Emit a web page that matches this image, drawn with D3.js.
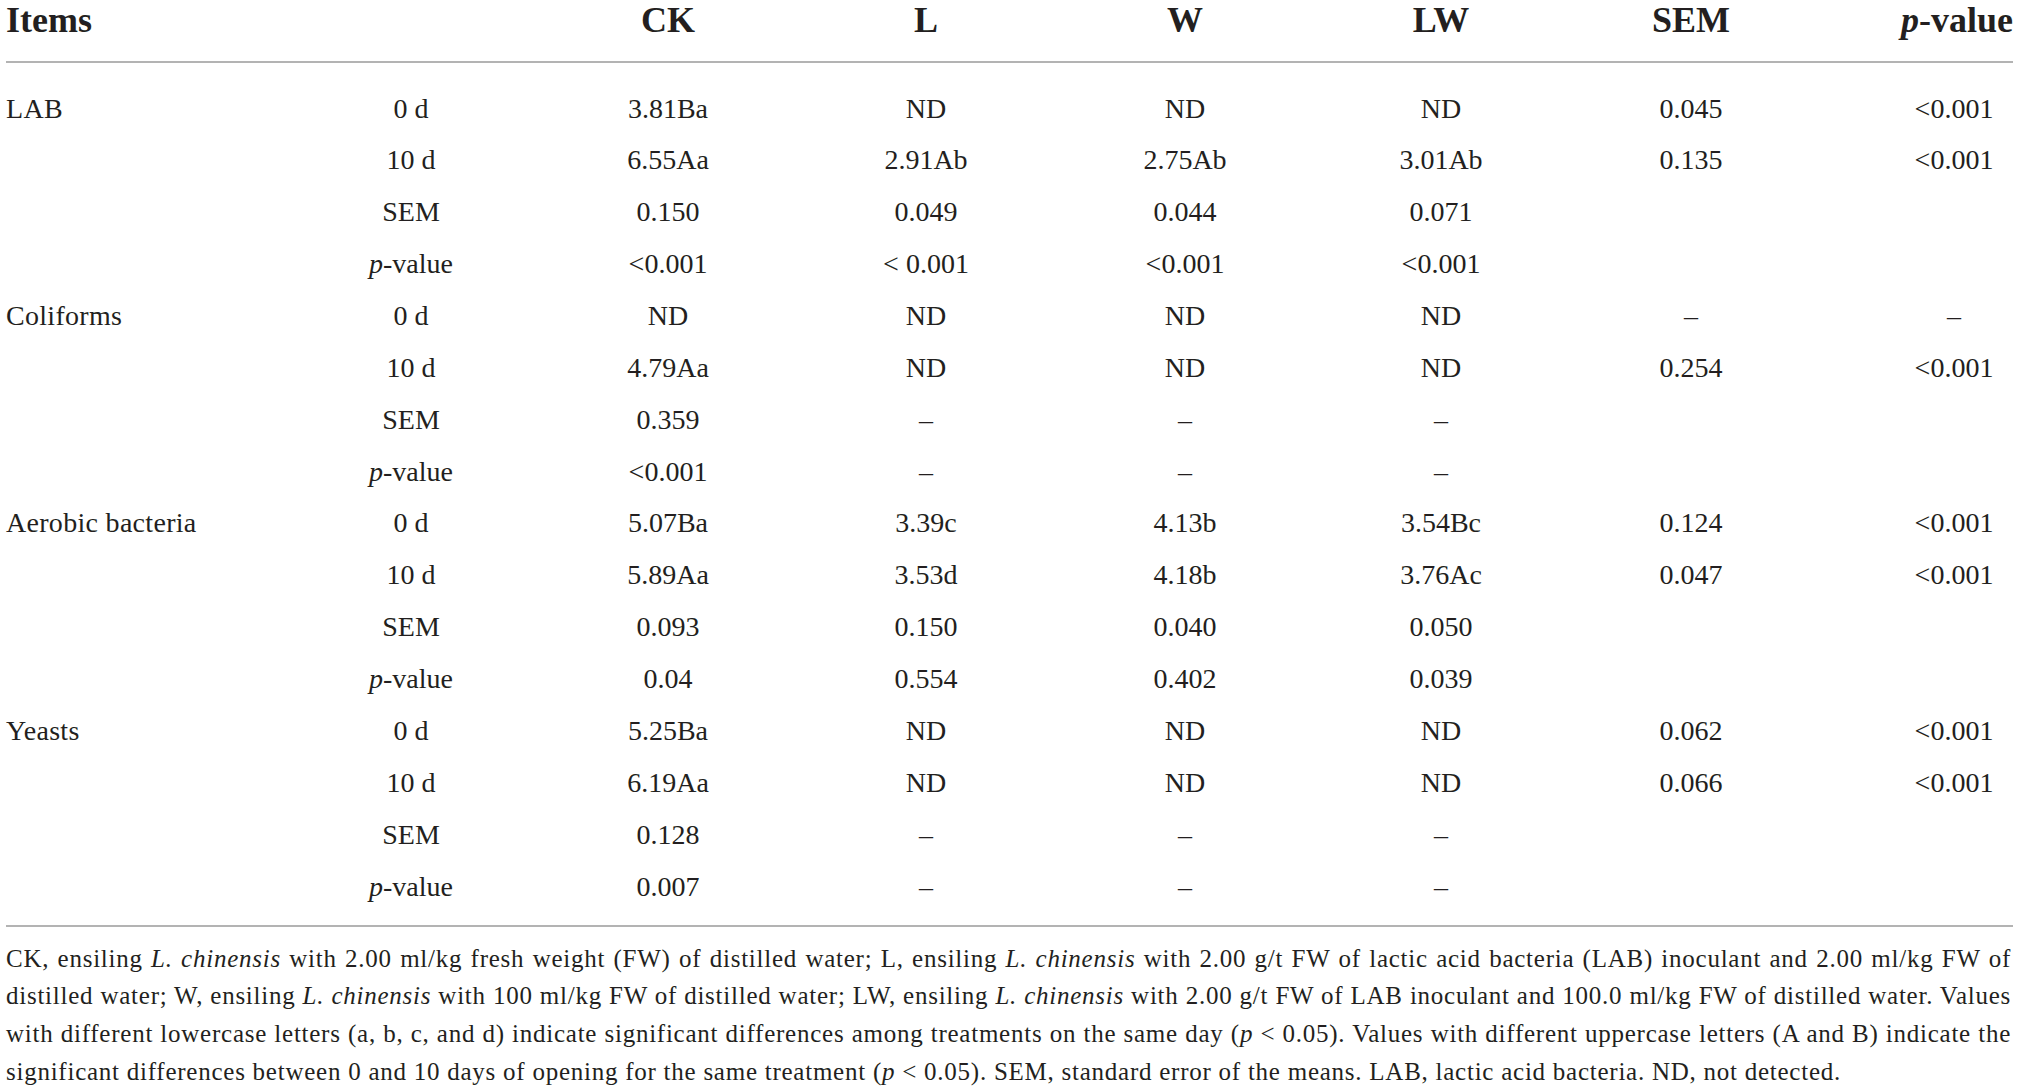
<!DOCTYPE html>
<html>
<head>
<meta charset="utf-8">
<script src="https://cdn.jsdelivr.net/npm/d3@7"></script>
<style>
  html, body { margin: 0; padding: 0; background: #fff; }
  svg { display: block; font-family: "Liberation Serif", "DejaVu Serif", serif; }
</style>
</head>
<body>
<div id="chart"></div>
<script>
// table content
var groups = ["LAB", "", "", "", "Coliforms", "", "", "", "Aerobic bacteria", "", "", "", "Yeasts", "", "", ""];
var subRows = ["0 d", "10 d", "SEM", "p-value"];
var headers = ["Items", "", "CK", "L", "W", "LW", "SEM", "p-value"];

var ck = ["3.81Ba", "6.55Aa", "0.150", "<0.001",
          "ND", "4.79Aa", "0.359", "<0.001",
          "5.07Ba", "5.89Aa", "0.093", "0.04",
          "5.25Ba", "6.19Aa", "0.128", "0.007"];
var l  = ["ND", "2.91Ab", "0.049", "< 0.001",
          "ND", "ND", "–", "–",
          "3.39c", "3.53d", "0.150", "0.554",
          "ND", "ND", "–", "–"];
var w  = ["ND", "2.75Ab", "0.044", "<0.001",
          "ND", "ND", "–", "–",
          "4.13b", "4.18b", "0.040", "0.402",
          "ND", "ND", "–", "–"];
var lw = ["ND", "3.01Ab", "0.071", "<0.001",
          "ND", "ND", "–", "–",
          "3.54Bc", "3.76Ac", "0.050", "0.039",
          "ND", "ND", "–", "–"];
var sem  = ["0.045", "0.135", "", "", "–", "0.254", "", "", "0.124", "0.047", "", "", "0.062", "0.066", "", ""];
var pval = ["<0.001", "<0.001", "", "", "–", "<0.001", "", "", "<0.001", "<0.001", "", "", "<0.001", "<0.001", "", ""];

var footLines = [
  "CK, ensiling *L. chinensis* with 2.00 ml/kg fresh weight (FW) of distilled water; L, ensiling *L. chinensis* with 2.00 g/t FW of lactic acid bacteria (LAB) inoculant and 2.00 ml/kg FW of",
  "distilled water; W, ensiling *L. chinensis* with 100 ml/kg FW of distilled water; LW, ensiling *L. chinensis* with 2.00 g/t FW of LAB inoculant and 100.0 ml/kg FW of distilled water. Values",
  "with different lowercase letters (a, b, c, and d) indicate significant differences among treatments on the same day (*p* < 0.05). Values with different uppercase letters (A and B) indicate the",
  "significant differences between 0 and 10 days of opening for the same treatment (*p* < 0.05). SEM, standard error of the means. LAB, lactic acid bacteria. ND, not detected."
];

var W = 2021, H = 1092, ink = "#231f20";

var svg = d3.select("#chart").append("svg")
    .attr("width", W).attr("height", H);

var cols = ["day", "CK", "L", "W", "LW", "SEM", "p"];
var x = d3.scaleOrdinal().domain(cols).range([411, 668, 926, 1185, 1441, 1691, 1954]);
var y = d3.scaleLinear().domain([0, 15]).range([117.5, 895.5]);

// write "p-value" style text with italic p
function addText(sel, s) {
  if (s === "p-value") {
    sel.append("tspan").attr("font-style", "italic").text("p");
    sel.append("tspan").text("-value");
  } else {
    sel.text(s);
  }
}

// header
var hdr = svg.append("g").attr("font-weight", "bold").attr("font-size", 36).attr("fill", ink);
hdr.append("text").attr("x", 6).attr("y", 32).text(headers[0]);
["CK", "L", "W", "LW", "SEM"].forEach(function(c) {
  hdr.append("text").attr("x", x(c)).attr("y", 32).attr("text-anchor", "middle").text(c);
});
addText(hdr.append("text").attr("x", 2013).attr("y", 32).attr("text-anchor", "end"), "p-value");

// rules
svg.append("g").attr("stroke", "#9a9a9a").attr("stroke-width", 1.6)
  .selectAll("line").data([62, 926]).enter().append("line")
  .attr("x1", 6).attr("x2", 2013).attr("y1", function(d) { return d; }).attr("y2", function(d) { return d; });

// body
var body = svg.append("g").attr("font-size", 28).attr("fill", ink);

body.selectAll("text.grp").data(groups).enter().append("text")
  .attr("class", "grp").attr("x", 6).attr("y", function(d, i) { return y(i); })
  .attr("letter-spacing", 0.3)
  .text(function(d) { return d; });

var rowIdx = d3.range(16);
body.selectAll("text.day").data(rowIdx).enter().append("text")
  .attr("class", "day").attr("x", x("day")).attr("y", function(i) { return y(i); })
  .attr("text-anchor", "middle")
  .each(function(i) { addText(d3.select(this), subRows[i % 4]); });

var series = [["CK", ck], ["L", l], ["W", w], ["LW", lw], ["SEM", sem], ["p", pval]];
series.forEach(function(s) {
  body.append("g").selectAll("text").data(s[1]).enter().append("text")
    .attr("x", x(s[0])).attr("y", function(d, i) { return y(i); })
    .attr("text-anchor", "middle")
    .text(function(d) { return d; });
});

// footnote, justified lines
var fy = d3.scaleLinear().domain([0, 3]).range([966.5, 1080]);
var foot = svg.append("g").attr("font-size", 25).attr("letter-spacing", 0.75).attr("fill", ink);
footLines.forEach(function(line, i) {
  var t = foot.append("text").attr("x", 6).attr("y", fy(i)).attr("xml:space", "preserve");
  line.split("*").forEach(function(part, j) {
    var ts = t.append("tspan").text(part);
    if (j % 2 === 1) ts.attr("font-style", "italic");
  });
  if (i < footLines.length - 1) {
    var len = t.node().getComputedTextLength();
    var spaces = (line.match(/ /g) || []).length;
    var extra = (2011 - 6 - len) / spaces;
    t.style("word-spacing", extra + "px");
  }
});
</script>
</body>
</html>
